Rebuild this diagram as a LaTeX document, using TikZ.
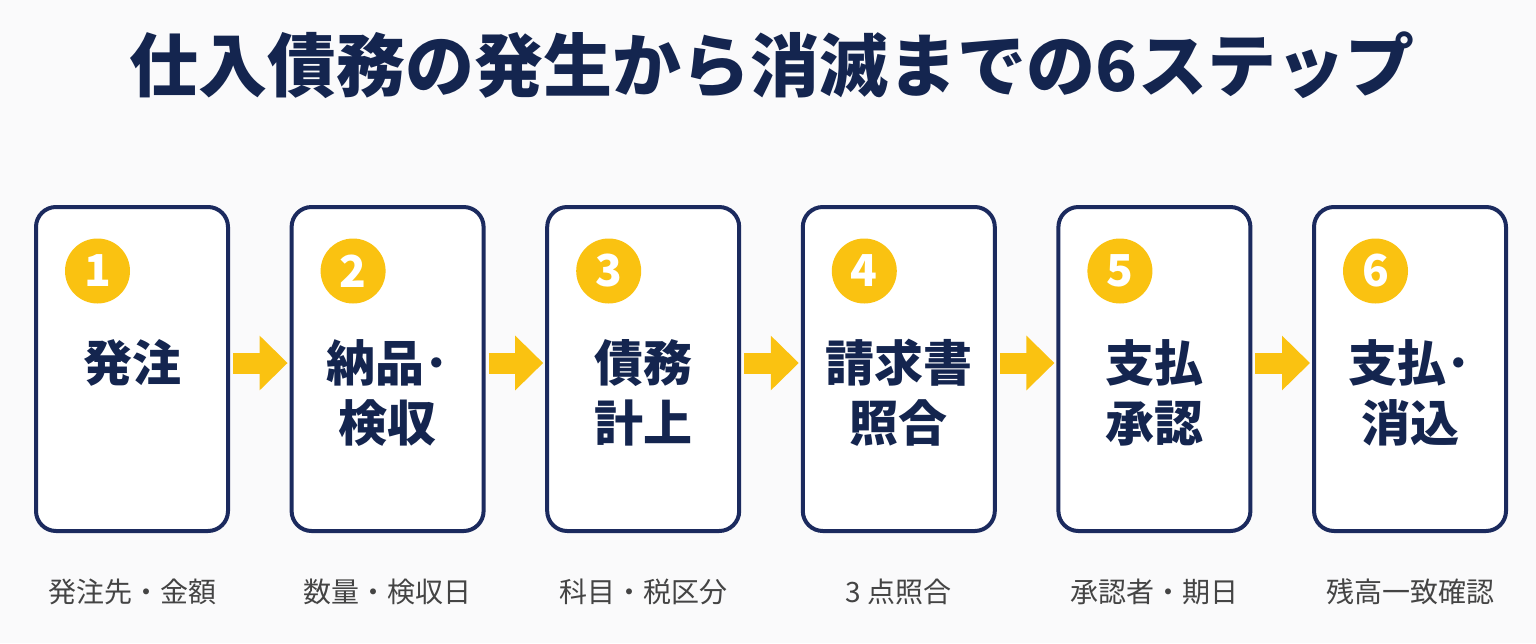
\documentclass[tikz,border=0pt]{standalone}
\usepackage{fontspec}
\setmainfont{Noto Sans CJK JP}
\usetikzlibrary{arrows.meta}
\definecolor{navy}{HTML}{1B2A5E}
\definecolor{ink}{HTML}{14254F}
\definecolor{gold}{HTML}{FAC211}
\definecolor{captc}{HTML}{444444}
\definecolor{bg}{HTML}{FAFAFB}
\begin{document}
\begin{tikzpicture}[x=1pt,y=-1pt,
  stepbox/.style={draw=navy, line width=4pt, fill=white, rounded corners=20pt,
    minimum width=192pt, minimum height=324pt, inner sep=0pt},
  badge/.style={circle, fill=gold, minimum size=65pt, inner sep=0pt, text=white,
    font=\bfseries\fontsize{44}{44}\selectfont},
  stepname/.style={text=ink, font=\bfseries\fontsize{49}{60}\selectfont, align=center, inner sep=0pt},
  captext/.style={text=captc, font=\fontsize{28}{30}\selectfont, inner sep=0pt},
  flowarrow/.style={draw=gold, line width=21pt, -{Triangle[length=28pt,width=53pt]}}
]
\fill[bg] (0,0) rectangle (1536,643);
\useasboundingbox (0,0) rectangle (1536,643);
\node[font=\bfseries\fontsize{69}{72}\selectfont, text=ink] (title) at (772,65) {仕入債務の発生から消滅までの6ステップ};
\foreach \i/\ly/\t/\c in {1/363/{発注}/{発注先・金額},
    2/393/{納品･\\検収}/{数量・検収日},
    3/393/{債務\\計上}/{科目・税区分},
    4/393/{請求書\\照合}/{3 点照合},
    5/393/{支払\\承認}/{承認者・期日},
    6/393/{支払･\\消込}/{残高一致確認}}{
  \pgfmathsetmacro{\x}{132+255.6*(\i-1)}
  \node[stepbox] (b\i) at (\x,369) {};
  \node[badge] (n\i) at (\x-34.5,271) {\i};
  \node[stepname] (t\i) at (\x,\ly) {\t};
  \node[captext] (c\i) at (\x,592) {\c};
}
\foreach \i [evaluate=\i as \j using int(\i+1)] in {1,...,5}
  \draw[flowarrow] ([xshift=3pt,yshift=6pt]b\i.east) -- ([xshift=-2pt,yshift=6pt]b\j.west);
\end{tikzpicture}
\end{document}
